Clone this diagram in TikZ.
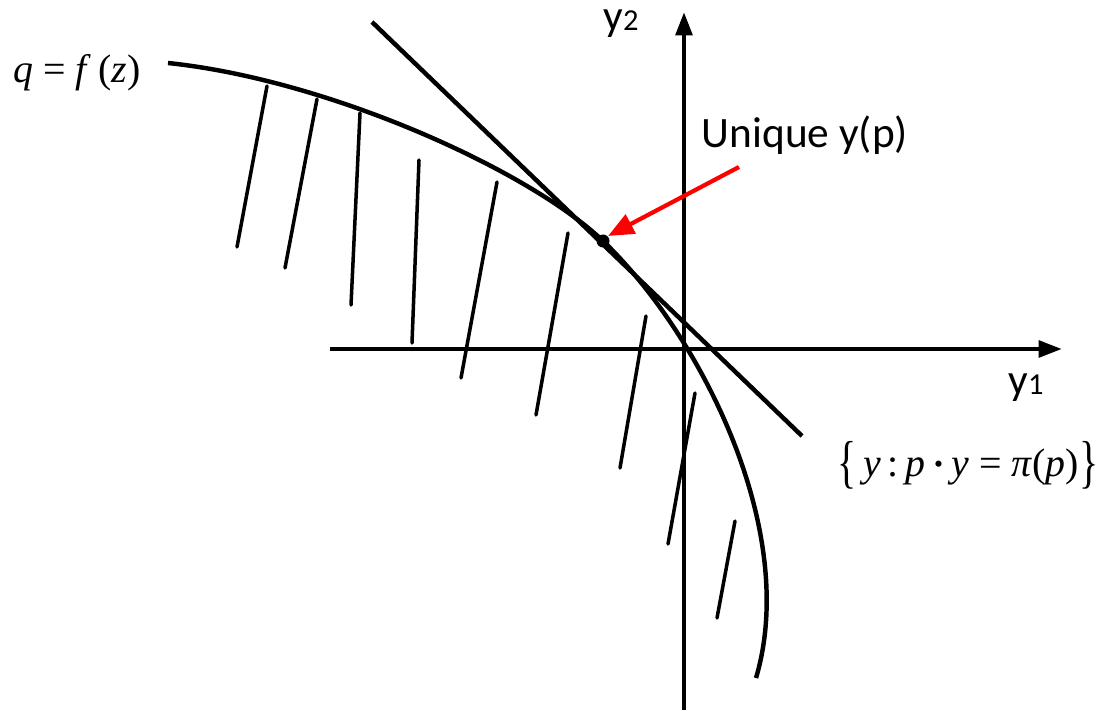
\documentclass[tikz,border=0pt]{standalone}
\usepackage{fontspec}
\setmainfont{Liberation Serif}
\newfontfamily\labelfont{Carlito}
\usetikzlibrary{arrows.meta}

\begin{document}
\begin{tikzpicture}[
  x=0.03cm,y=-0.03cm,
  axis/.style={line width=4pt,-{Triangle[length=20pt,width=14pt]}},
  frontier/.style={line width=3.8pt},
  hatch/.style={line width=3pt,line cap=round},
  pointer/.style={line width=3.6pt,red,-{Triangle[length=22pt,width=18pt]}},
  lbl/.style={font=\labelfont\fontsize{37}{40}\selectfont,inner sep=0pt},
  mth/.style={font=\fontsize{34}{36}\selectfont,inner sep=0pt}]
  \useasboundingbox (0,0) rectangle (1099,711);
  % axes
  \coordinate (o) at (684,349);
  \draw[axis] (330,349) -- (1062,349);
  \draw[axis] (684,710) -- (684,12);
  \node[lbl] (ytwo) at (621,24) {y{\fontsize{26}{28}\selectfont 2}};
  \node[lbl] (yone) at (1026,388) {y{\fontsize{26}{28}\selectfont 1}};
  % production frontier
  \draw[frontier] (168,63) .. controls (330,80) and (530,171) .. (603,241)
    .. controls (700,334) and (800,530) .. (756,678);
  % iso-profit line
  \draw[frontier] (372,22) -- (802,436);
  % hatching
  \foreach \xa/\ya/\xb/\yb in {267/86/237/247, 317/99/285/268, 360/113/351/305,
      419/160/412/343, 497/182/461/378, 568/233/536/415, 646/316/620/468,
      695/393/668/544, 735/521/717/618}
    \draw[hatch] (\xa,\ya) -- (\xb,\yb);
  % tangency point
  \fill (603,241) circle (6.5);
  \node[lbl] (uniq) at (805,135) {Unique y(p)};
  \coordinate (tail) at (739,167);
  \coordinate (tip) at (608,236);
  \draw[pointer] (tail) -- (tip);
  \node[mth] (fz) at (77,73) {\textit{q} = \textit{f}\,(\textit{z})};
  \node[mth] (iso) at (968,465) {\raisebox{-0.12em}{\scalebox{1}[1.45]{\{}}\,\textit{y}\,:\,\textit{p}\,\raisebox{0.25em}{\scalebox{1.3}{.}}\,\textit{y} = \textit{π}(\textit{p})\raisebox{-0.12em}{\scalebox{1}[1.45]{\}}}};
\end{tikzpicture}
\end{document}
